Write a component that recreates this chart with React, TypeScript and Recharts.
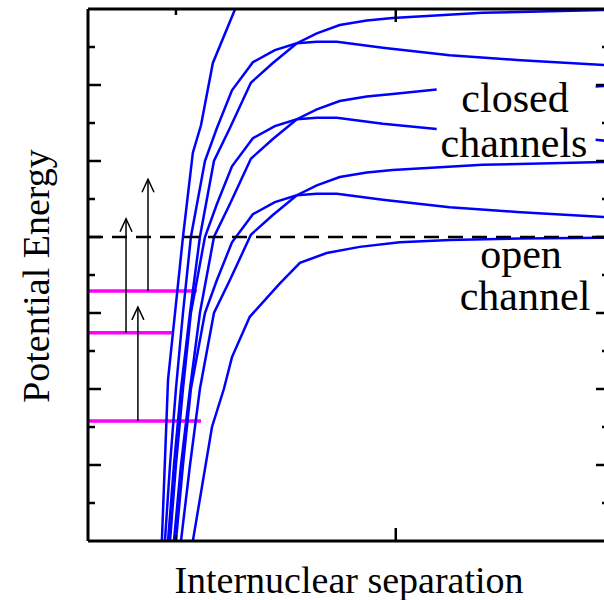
import React from 'react';
import { LineChart, Line, XAxis, YAxis } from 'recharts';

// axis ticks (arbitrary units)
const xTicks = [4, 14];
const xMajor = [14];
const yTicks = [-3.5, -3, -2.5, -2, -1.5, -1, -0.5, 0, 0.5, 1, 1.5, 2, 2.5];

// potential curves, [separation, energy]
const steep = [[3.23, -5], [3.36, -4], [3.64, -1.88], [4.32, 0], [4.77, 1.11], [5.14, 1.47], [5.68, 2.29], [6.68, 2.99], [7.23, 3.38]];
const topBarrier = [[3.27, -5], [3.5, -4], [3.73, -3], [4.0, -2], [4.32, -1], [4.68, 0], [5.32, 1.0], [5.86, 1.43], [6.55, 1.93], [7.5, 2.3], [8.5, 2.46], [9.5, 2.55], [10.41, 2.57], [11.32, 2.57], [13.41, 2.49], [16.45, 2.39], [19.5, 2.33], [23.73, 2.26]];
const topWell = [[3.41, -5], [3.64, -4], [3.91, -3], [4.23, -2], [4.64, -1], [5.09, 0], [5.73, 1.0], [6.45, 1.43], [7.41, 2.03], [8.41, 2.29], [9.5, 2.55], [10.41, 2.68], [11.45, 2.79], [12.68, 2.85], [13.86, 2.88], [17.95, 2.95], [23.73, 2.99]];
const midBarrier = [[3.5, -5], [3.73, -4], [4.0, -3], [4.32, -2], [4.68, -1], [5.32, 0], [5.86, 0.43], [6.55, 0.93], [7.5, 1.3], [8.5, 1.46], [9.5, 1.55], [10.41, 1.57], [11.32, 1.57], [13.41, 1.49], [15.86, 1.42], [19.5, null], [23.09, 1.28], [23.73, 1.26]];
const midWell = [[3.64, -5], [3.91, -4], [4.23, -3], [4.64, -2], [5.09, -1], [5.73, 0], [6.45, 0.43], [7.41, 1.03], [8.41, 1.29], [9.5, 1.55], [10.41, 1.68], [11.45, 1.79], [12.68, 1.85], [13.86, 1.88], [15.86, 1.94], [19.5, null], [23.09, 1.98], [23.73, 1.99]];
const lowBarrier = [[3.73, -5], [4.0, -4], [4.32, -3], [4.68, -2], [5.32, -1], [5.86, -0.57], [6.55, -0.07], [7.5, 0.3], [8.5, 0.46], [9.5, 0.55], [10.41, 0.57], [11.32, 0.57], [13.41, 0.49], [16.45, 0.39], [19.5, 0.33], [23.73, 0.26]];
const lowWell = [[3.91, -5], [4.23, -4], [4.64, -3], [5.09, -2], [5.73, -1], [6.45, -0.57], [7.41, 0.03], [8.41, 0.29], [9.5, 0.55], [10.41, 0.68], [11.45, 0.79], [12.68, 0.85], [13.86, 0.88], [17.95, 0.95], [23.73, 0.99]];
const openChannel = [[4.18, -5], [4.77, -4], [5.64, -2.5], [6.18, -2], [6.55, -1.58], [7.36, -1.05], [8.73, -0.61], [9.64, -0.34], [10.86, -0.21], [12.36, -0.13], [14.18, -0.07], [16.45, -0.04], [19.64, -0.02], [23.73, -0.01]];

// bound levels (magenta) and excitation arrows
const levelY = [-0.71, -1.26, -2.42];
const levelEnd = [4.95, 3.82, 5.14];
const arrowX = [1.73, 2.73, 2.27];
const arrowFrom = [-1.26, -0.71, -2.42];
const arrowTo = [0.24, 0.76, -0.92];

const threshold = 0;
const xMax = 23.7;

const curves = [steep, topBarrier, topWell, midBarrier, midWell, lowBarrier, lowWell, openChannel];

const toPoints = (pts: (number | null)[][]) => pts.map(([x, y]) => ({ x, y }));

const serif = "'Liberation Serif', 'Times New Roman', serif";

const isMajorY = (v: number) => Math.abs(v - Math.round(v)) < 1e-6;

const leftTick = (props: any) => {
  const { x, y, payload } = props;
  const len = isMajorY(payload.value) ? 13 : 7;
  return <line x1={x} y1={y} x2={x + len} y2={y} stroke="#000" strokeWidth={2.5} />;
};
const rightTick = (props: any) => {
  const { x, y, payload } = props;
  const len = isMajorY(payload.value) ? 13 : 7;
  return <line x1={x} y1={y} x2={x - len} y2={y} stroke="#000" strokeWidth={2.5} />;
};
const bottomTick = (props: any) => {
  const { x, y, payload } = props;
  const len = xMajor.includes(payload.value) ? 13 : 6;
  return <line x1={x} y1={y} x2={x} y2={y - len} stroke="#000" strokeWidth={2.5} />;
};
const topTick = (props: any) => {
  const { x, y, payload } = props;
  const len = xMajor.includes(payload.value) ? 13 : 6;
  return <line x1={x} y1={y} x2={x} y2={y + len} stroke="#000" strokeWidth={2.5} />;
};

const arrowHead = (props: any) => {
  const { cx, cy, index } = props;
  if (index !== 1) return <g key={`n${index}`} />;
  return (
    <path
      key={`h${cx}`}
      d={`M${cx - 6},${cy + 13} L${cx},${cy} L${cx + 6},${cy + 13}`}
      fill="none"
      stroke="#000"
      strokeWidth={1.5}
    />
  );
};

const axisLine = { stroke: '#000', strokeWidth: 3 };

export default function App() {
  return (
    <div style={{ position: 'absolute', left: 0, top: 0, width: 604, height: 600, overflow: 'hidden', background: '#fff' }}>
      <LineChart width={640} height={600} margin={{ top: 8, right: 30, bottom: 58, left: 87 }}>
        {levelY.map((y, i) => (
          <Line
            key={`lvl${i}`}
            data={[{ x: 0, y }, { x: levelEnd[i], y }]}
            dataKey="y"
            type="linear"
            stroke="#ff00ff"
            strokeWidth={3.5}
            dot={false}
            activeDot={false}
            isAnimationActive={false}
          />
        ))}

        {arrowX.map((x, i) => (
          <Line
            key={`arr${i}`}
            data={[{ x, y: arrowFrom[i] }, { x, y: arrowTo[i] }]}
            dataKey="y"
            type="linear"
            stroke="#000"
            strokeWidth={1.5}
            dot={arrowHead}
            activeDot={false}
            isAnimationActive={false}
          />
        ))}

        {curves.map((c, i) => (
          <Line
            key={`c${i}`}
            data={toPoints(c)}
            dataKey="y"
            type="linear"
            stroke="#0000ff"
            strokeWidth={2.5}
            dot={false}
            activeDot={false}
            connectNulls={false}
            isAnimationActive={false}
          />
        ))}

        <Line
          data={[{ x: 0, y: threshold }, { x: xMax, y: threshold }]}
          dataKey="y"
          type="linear"
          stroke="#000"
          strokeWidth={2.5}
          strokeDasharray="15 9"
          dot={false}
          activeDot={false}
          isAnimationActive={false}
        />

        <XAxis
          dataKey="x"
          type="number"
          domain={[0, xMax]}
          allowDataOverflow
          ticks={xTicks}
          interval={0}
          height={1}
          tickSize={0}
          tickMargin={0}
          tickLine={false}
          tick={bottomTick}
          axisLine={axisLine}
        />
        <XAxis
          xAxisId="top"
          orientation="top"
          dataKey="x"
          type="number"
          domain={[0, xMax]}
          allowDataOverflow
          ticks={xTicks}
          interval={0}
          height={1}
          tickSize={0}
          tickMargin={0}
          tickLine={false}
          tick={topTick}
          axisLine={axisLine}
        />
        <YAxis
          type="number"
          domain={[-4, 3]}
          allowDataOverflow
          ticks={yTicks}
          interval={0}
          width={1}
          tickSize={0}
          tickMargin={0}
          tickLine={false}
          tick={leftTick}
          axisLine={axisLine}
        />
        <YAxis
          yAxisId="right"
          orientation="right"
          type="number"
          domain={[-4, 3]}
          allowDataOverflow
          ticks={yTicks}
          interval={0}
          width={1}
          tickSize={0}
          tickMargin={0}
          tickLine={false}
          tick={rightTick}
          axisLine={axisLine}
        />
      </LineChart>

      <svg width={604} height={600} style={{ position: 'absolute', left: 0, top: 0, pointerEvents: 'none' }}>
        <g fontFamily={serif} fill="#000">
          <text x={515} y={112} fontSize={42} textAnchor="middle">closed</text>
          <text x={514} y={157} fontSize={42} textAnchor="middle">channels</text>
          <text x={521} y={268} fontSize={42} textAnchor="middle">open</text>
          <text x={525} y={310} fontSize={42} textAnchor="middle">channel</text>
          <text x={349} y={593} fontSize={38} textAnchor="middle">Internuclear separation</text>
          <text x={49} y={276} fontSize={38} textAnchor="middle" transform="rotate(-90 49 276)">Potential Energy</text>
        </g>
      </svg>
    </div>
  );
}
